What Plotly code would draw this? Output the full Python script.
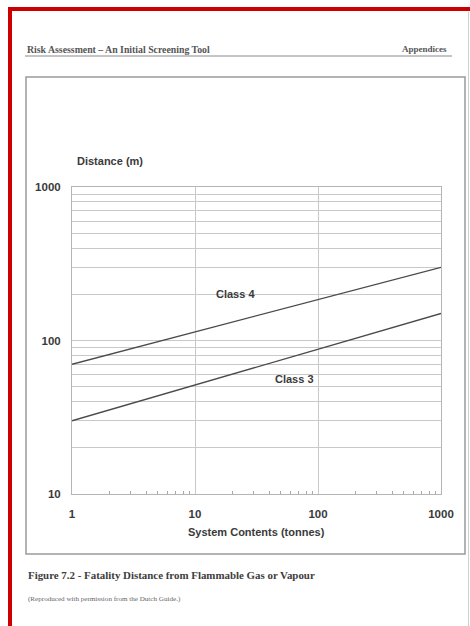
import plotly.graph_objects as go
import math

# ---- data ----
contents_t = [1, 1000]              # System contents (tonnes)
class4_m = [70, 300]                # Class 4 fatality distance (m)
class3_m = [30, 150]                # Class 3 fatality distance (m)
x_ticks = [1, 10, 100, 1000]
x_ticklabels = ["1", "10", "100", "1000"]
y_ticks = [10, 100, 1000]
y_ticklabels = ["10", "100", "1000"]
y_minor = [20, 30, 40, 50, 60, 70, 80, 90, 200, 300, 400, 500, 600, 700, 800, 900]
x_minor = [2, 3, 4, 5, 6, 7, 8, 9, 20, 30, 40, 50, 60, 70, 80, 90,
           200, 300, 400, 500, 600, 700, 800, 900]
series_labels = ["Class 4", "Class 3"]

W, H = 470, 626
L, R, T, B = 72, 441, 187, 494   # plot area in pixels


def px(x):
    return (x - L) / (R - L)


def py(y):
    return (B - y) / (B - T)


SANS = "Liberation Sans"
SERIF = "Liberation Serif"
TXT = "#3a3a3a"
GRID = "#c9c9c9"
LINE = "#4a4a4a"

fig = go.Figure()
fig.add_trace(go.Scatter(x=contents_t, y=class4_m, mode="lines",
                         line=dict(color=LINE, width=1.3), name=series_labels[0],
                         showlegend=False, hoverinfo="skip"))
fig.add_trace(go.Scatter(x=contents_t, y=class3_m, mode="lines",
                         line=dict(color=LINE, width=1.3), name=series_labels[1],
                         showlegend=False, hoverinfo="skip"))

tickfont = dict(family=SANS, size=11.5, color=TXT, weight="bold")

fig.update_xaxes(type="log", range=[0, 3], tickvals=x_ticks, ticktext=x_ticklabels,
                 showgrid=True, gridcolor=GRID, gridwidth=1,
                 showline=True, linecolor="#b5b5b5", linewidth=1, mirror=True,
                 ticks="", tickfont=tickfont, ticklabelstandoff=9,
                 zeroline=False,
                 minor=dict(tickvals=x_minor, ticks="inside", ticklen=3,
                            tickcolor="#aaaaaa", showgrid=False))
fig.update_yaxes(type="log", range=[1, 3], tickvals=y_ticks, ticktext=y_ticklabels,
                 showgrid=True, gridcolor=GRID, gridwidth=1,
                 showline=True, linecolor="#b5b5b5", linewidth=1, mirror=True,
                 ticks="", tickfont=tickfont, ticklabelstandoff=8,
                 zeroline=False,
                 minor=dict(tickvals=y_minor, ticks="", showgrid=True,
                            gridcolor=GRID, gridwidth=1))

ann = []
# series labels (data coordinates)
ann.append(dict(x=math.log10(21.5), y=math.log10(200), xref="x", yref="y",
                text=series_labels[0], showarrow=False,
                font=dict(family=SANS, size=11, color=TXT, weight="bold")))
ann.append(dict(x=math.log10(65), y=math.log10(56), xref="x", yref="y",
                text=series_labels[1], showarrow=False,
                font=dict(family=SANS, size=11, color=TXT, weight="bold")))
# axis titles
ann.append(dict(x=px(75), y=py(161), xref="paper", yref="paper", xanchor="left",
                yanchor="middle", text="Distance (m)", showarrow=False,
                font=dict(family=SANS, size=11, color=TXT, weight="bold")))
ann.append(dict(x=px(256), y=py(532), xref="paper", yref="paper", xanchor="center",
                yanchor="middle", text="System Contents (tonnes)", showarrow=False,
                font=dict(family=SANS, size=11, color=TXT, weight="bold")))
# page header
ann.append(dict(x=px(25), y=py(49), xref="paper", yref="paper", xanchor="left",
                yanchor="middle", text="Risk Assessment \u2013 An Initial Screening Tool",
                showarrow=False, font=dict(family=SERIF, size=9.8, color="#555555",
                                           weight="bold")))
ann.append(dict(x=px(449), y=py(49), xref="paper", yref="paper", xanchor="right",
                yanchor="middle", text="Appendices",
                showarrow=False, font=dict(family=SERIF, size=9, color="#555555",
                                           weight="bold")))
# caption
ann.append(dict(x=px(26), y=py(575), xref="paper", yref="paper", xanchor="left",
                yanchor="middle",
                text="Figure 7.2 - Fatality Distance from Flammable Gas or Vapour",
                showarrow=False, font=dict(family=SERIF, size=10.9, color="#3d3d3d",
                                           weight="bold")))
ann.append(dict(x=px(26), y=py(599), xref="paper", yref="paper", xanchor="left",
                yanchor="middle",
                text="(Reproduced with permission from the Dutch Guide.)",
                showarrow=False, font=dict(family=SERIF, size=7.1, color="#666666")))

shapes = [
    # header underline
    dict(type="line", xref="paper", yref="paper", x0=px(25), x1=px(452),
         y0=py(56), y1=py(56), line=dict(color="#8a8a8a", width=1)),
    # inner frame
    dict(type="rect", xref="paper", yref="paper", x0=px(26), x1=px(465),
         y0=py(77), y1=py(554), line=dict(color="#9a9a9a", width=1.5)),
    # red border (top and left)
    dict(type="rect", xref="paper", yref="paper", x0=px(8), x1=px(471),
         y0=py(7), y1=py(11), fillcolor="#cc0000", line=dict(width=0)),
    dict(type="rect", xref="paper", yref="paper", x0=px(8), x1=px(12),
         y0=py(7), y1=py(627), fillcolor="#cc0000", line=dict(width=0)),
    # right page edge
    dict(type="line", xref="paper", yref="paper", x0=px(468.5), x1=px(468.5),
         y0=py(12), y1=py(626), line=dict(color="#d0d0d0", width=1)),
]

fig.update_layout(width=W, height=H, autosize=False,
                  margin=dict(l=L, r=W - R, t=T, b=H - B, pad=0),
                  paper_bgcolor="white", plot_bgcolor="white",
                  showlegend=False, annotations=ann, shapes=shapes)

fig.write_html("out.html",
               config={"displayModeBar": False},
               post_script="document.body.style.margin='0';"
                           "document.body.style.overflow='hidden';")
